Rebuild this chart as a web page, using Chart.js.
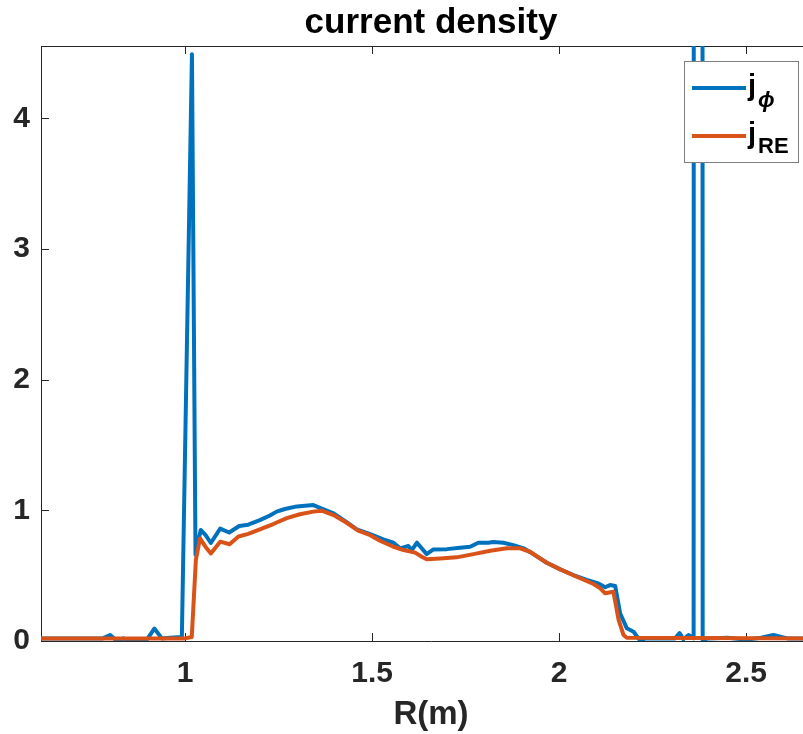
<!DOCTYPE html>
<html>
<head>
<meta charset="utf-8">
<title>current density</title>
<script src="https://cdn.jsdelivr.net/npm/chart.js@4.4.1/dist/chart.umd.min.js"></script>
<style>
  html, body { margin: 0; padding: 0; background: #fff; }
  #wrap { width: 803px; height: 734px; overflow: hidden; position: relative; }
  canvas { display: block; }
</style>
</head>
<body>
<div id="wrap"><canvas id="jChart" width="821" height="734"></canvas></div>
<script>
// radial profile R (m) and toroidal current density j_phi
const rPhi = [0.615, 0.70, 0.78, 0.80, 0.812, 0.822, 0.835, 0.845, 0.853, 0.87, 0.898, 0.918, 0.938, 0.96,
  0.9915, 1.0185, 1.028, 1.042, 1.055, 1.069, 1.094, 1.118, 1.145, 1.169, 1.2, 1.227, 1.245, 1.267,
  1.299, 1.343, 1.369, 1.397, 1.432, 1.459, 1.495, 1.530, 1.557, 1.575, 1.597, 1.606, 1.620, 1.646,
  1.664, 1.700, 1.735, 1.762, 1.784, 1.811, 1.824, 1.851, 1.878, 1.905, 1.931, 1.967, 2.003, 2.038,
  2.074, 2.105, 2.123, 2.136, 2.150, 2.163, 2.181, 2.199, 2.212, 2.217, 2.23, 2.31, 2.322, 2.332,
  2.346, 2.3595, 2.3716, 2.3837, 2.40, 2.45, 2.50, 2.54, 2.573, 2.61, 2.65, 2.70];
const jPhi = [0.02, 0.02, 0.02, 0.045, 0.015, -0.01, 0.02, 0.01, -0.005, 0.015, 0.01, 0.095, 0.02, 0.025,
  0.03, 4.49, 0.66, 0.85, 0.81, 0.75, 0.86, 0.83, 0.88, 0.89, 0.925, 0.96, 0.99, 1.01,
  1.03, 1.04, 1.01, 0.977, 0.91, 0.854, 0.818, 0.778, 0.752, 0.709, 0.727, 0.696, 0.752, 0.665,
  0.701, 0.703, 0.714, 0.721, 0.752, 0.752, 0.757, 0.752, 0.734, 0.709, 0.665, 0.599, 0.548, 0.505,
  0.467, 0.441, 0.411, 0.428, 0.421, 0.212, 0.097, 0.071, 0.02, 0.0, 0.02, 0.02, 0.06, 0.013,
  0.046, 0.02, 150, 0.01, 0.02, 0.025, 0.01, 0.025, 0.046, 0.02, 0.02, 0.02];

// runaway electron current density j_RE
const rRE = [0.615, 1.0, 1.018, 1.029, 1.040, 1.055, 1.069, 1.094, 1.119, 1.143, 1.169, 1.2, 1.236,
  1.272, 1.307, 1.343, 1.365, 1.397, 1.432, 1.463, 1.495, 1.521, 1.557, 1.584, 1.615, 1.633, 1.646,
  1.682, 1.726, 1.771, 1.816, 1.860, 1.896, 1.922, 1.967, 2.003, 2.047, 2.092, 2.110, 2.123, 2.145,
  2.159, 2.172, 2.181, 2.70];
const jRE = [0.02, 0.02, 0.03, 0.62, 0.785, 0.72, 0.67, 0.76, 0.74, 0.80, 0.82, 0.854, 0.895,
  0.94, 0.97, 0.99, 0.997, 0.964, 0.905, 0.844, 0.81, 0.767, 0.721, 0.696, 0.676, 0.645, 0.625,
  0.632, 0.64, 0.665, 0.69, 0.709, 0.709, 0.683, 0.599, 0.548, 0.492, 0.436, 0.403, 0.365, 0.377,
  0.161, 0.046, 0.025, 0.02];

const xTicks = [1, 1.5, 2, 2.5];
const yTicks = [0, 1, 2, 3, 4];

const BLUE = '#0072BD';
const ORANGE = '#D95319';
const AXIS = '#262626';
const FONT = '"Liberation Sans", Arial, Helvetica, sans-serif';

const toPoints = (xs, ys) => xs.map((x, i) => ({ x: x, y: ys[i] }));

// inward tick marks plus the top edge of the box
const boxTicks = {
  id: 'boxTicks',
  beforeDatasetsDraw(chart) {
    const { ctx, chartArea: a, scales: { x, y } } = chart;
    const len = 8;
    ctx.save();
    ctx.strokeStyle = AXIS;
    ctx.lineWidth = 1;
    ctx.beginPath();
    ctx.moveTo(a.left, a.top + 0.5);
    ctx.lineTo(a.right, a.top + 0.5);
    xTicks.forEach(v => {
      const px = Math.round(x.getPixelForValue(v)) + 0.5;
      ctx.moveTo(px, a.bottom);
      ctx.lineTo(px, a.bottom - len);
      ctx.moveTo(px, a.top);
      ctx.lineTo(px, a.top + len);
    });
    yTicks.forEach(v => {
      const py = Math.round(y.getPixelForValue(v)) + 0.5;
      ctx.moveTo(a.left, py);
      ctx.lineTo(a.left + len, py);
    });
    ctx.stroke();
    ctx.restore();
  }
};

// legend box with subscripted labels
const texLegend = {
  id: 'texLegend',
  afterDraw(chart) {
    const ctx = chart.ctx;
    const entries = [
      { color: BLUE, sub: '\u03D5', subFont: 'italic bold 22px ' + FONT + ', "DejaVu Sans"', y: 88, base: 95, subBase: 107 },
      { color: ORANGE, sub: 'RE', subFont: 'bold 22px ' + FONT, y: 136, base: 143, subBase: 153 }
    ];
    ctx.save();
    ctx.fillStyle = '#fff';
    ctx.fillRect(684, 61, 115, 102);
    ctx.strokeStyle = '#7f7f7f';
    ctx.lineWidth = 1;
    ctx.strokeRect(684.5, 61.5, 114, 101);
    entries.forEach(e => {
      ctx.strokeStyle = e.color;
      ctx.lineWidth = 4;
      ctx.beginPath();
      ctx.moveTo(692, e.y);
      ctx.lineTo(746, e.y);
      ctx.stroke();
      ctx.fillStyle = '#000';
      ctx.textBaseline = 'alphabetic';
      ctx.textAlign = 'left';
      ctx.font = 'bold 29px ' + FONT;
      ctx.fillText('j', 748, e.base);
      ctx.font = e.subFont;
      ctx.fillText(e.sub, 758, e.subBase);
    });
    ctx.restore();
  }
};

new Chart(document.getElementById('jChart').getContext('2d'), {
  type: 'line',
  data: {
    datasets: [
      {
        label: 'j_phi',
        data: toPoints(rPhi, jPhi),
        borderColor: BLUE,
        borderWidth: 4,
        pointRadius: 0,
        tension: 0,
        borderJoinStyle: 'round',
        fill: false,
        order: 1
      },
      {
        label: 'j_RE',
        data: toPoints(rRE, jRE),
        borderColor: ORANGE,
        borderWidth: 4,
        pointRadius: 0,
        tension: 0,
        borderJoinStyle: 'round',
        fill: false,
        order: 0
      }
    ]
  },
  options: {
    responsive: false,
    animation: false,
    events: [],
    layout: { padding: 0 },
    plugins: {
      legend: { display: false },
      tooltip: { enabled: false },
      title: {
        display: true,
        text: 'current density',
        color: '#000',
        fullSize: false,
        font: { family: FONT, size: 35, weight: 'bold', lineHeight: 1.2 },
        padding: { top: 2, bottom: 2 }
      }
    },
    scales: {
      x: {
        type: 'linear',
        min: 0.615,
        max: 2.7,
        afterBuildTicks: s => { s.ticks = xTicks.map(v => ({ value: v })); },
        afterFit: s => { s.height = 93; },
        ticks: {
          color: AXIS,
          padding: 15,
          maxRotation: 0,
          font: { family: FONT, size: 30, weight: 'bold' },
          callback: v => String(v)
        },
        grid: { display: false, drawTicks: false },
        border: { display: true, color: AXIS, width: 1 },
        title: {
          display: true,
          text: 'R(m)',
          color: AXIS,
          padding: { top: 0, bottom: 0 },
          font: { family: FONT, size: 33, weight: 'bold', lineHeight: 1.15 }
        }
      },
      y: {
        type: 'linear',
        min: 0,
        max: 4.553,
        afterBuildTicks: s => { s.ticks = yTicks.map(v => ({ value: v })); },
        afterFit: s => { s.width = 41; },
        ticks: {
          color: AXIS,
          padding: 11,
          font: { family: FONT, size: 30, weight: 'bold' },
          callback: v => String(v)
        },
        grid: { display: false, drawTicks: false },
        border: { display: true, color: AXIS, width: 1 }
      }
    }
  },
  plugins: [boxTicks, texLegend]
});
</script>
</body>
</html>
